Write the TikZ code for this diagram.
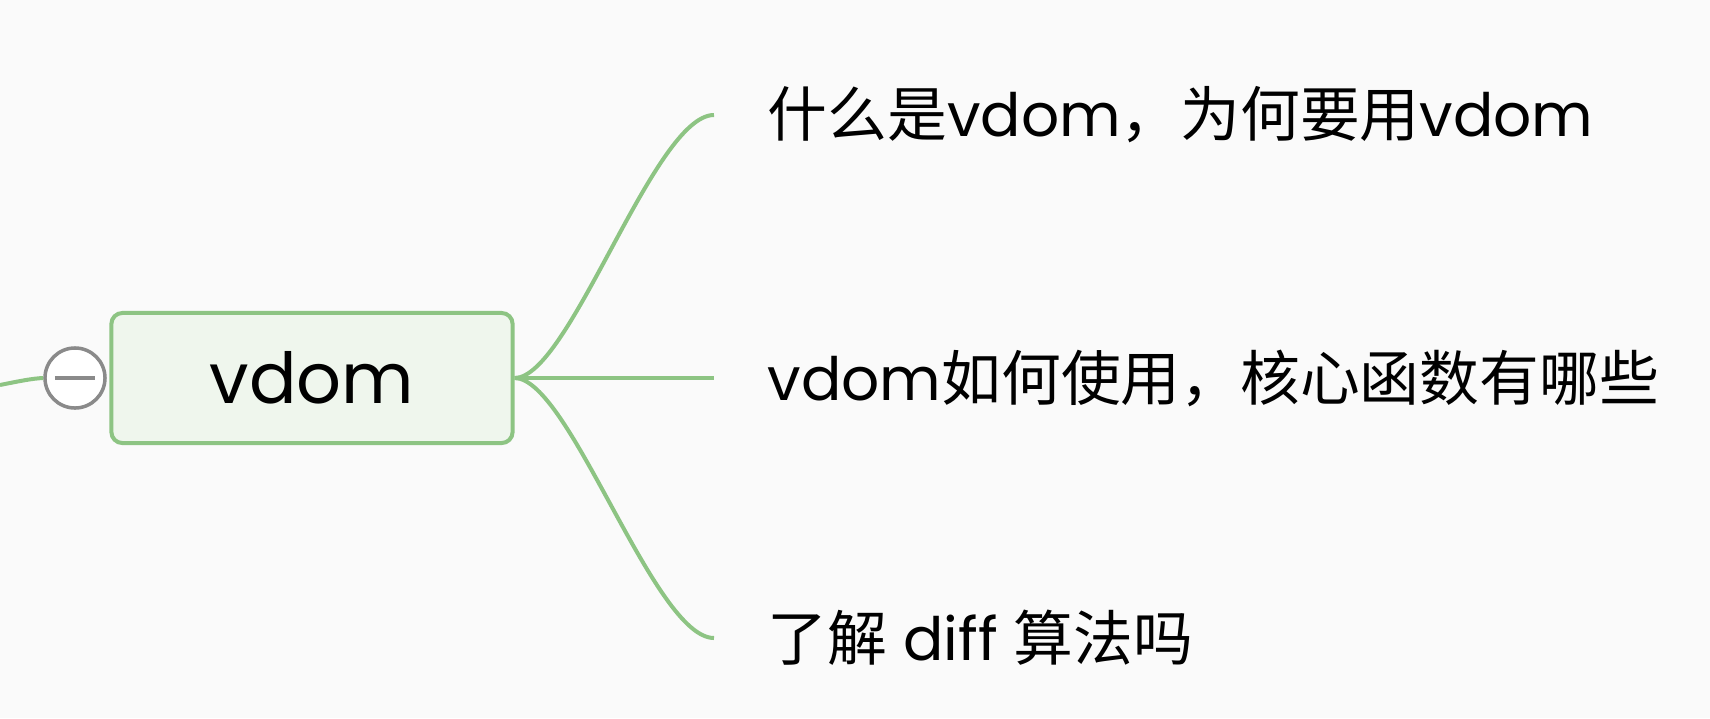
\documentclass[tikz,border=0pt]{standalone}
\usepackage{fontspec}
\setmainfont{Poppins}
\newfontfamily\cjk{Noto Sans CJK SC}
\definecolor{bg}{HTML}{FAFAFA}
\definecolor{branch}{HTML}{8DC483}
\definecolor{boxfill}{HTML}{EFF6ED}
\definecolor{toggray}{HTML}{8A8A8A}
\tikzset{
  branchline/.style={draw=branch, line width=0.04cm},
  rootbox/.style={rectangle, rounded corners=0.11cm, draw=branch, line width=0.04cm, fill=boxfill,
    minimum width=4.01cm, minimum height=1.30cm, inner sep=0pt,
    font=\fontsize{20pt}{24pt}\selectfont},
  togglebtn/.style={circle, draw=toggray, line width=0.035cm, fill=white, minimum size=0.60cm, inner sep=0pt},
  topic/.style={anchor=west, inner sep=0pt, font=\fontsize{17pt}{20pt}\selectfont, text=black}
}
\begin{document}
\begin{tikzpicture}[x={(0.01cm,0)}, y={(0,-0.01cm)}]
  \fill[bg] (0,0) rectangle (1710,718);
  \useasboundingbox (0,0) rectangle (1710,718);
  \coordinate (lft) at (0,385);
  \node[togglebtn] (tog) at (75,378) {};
  \draw[toggray, line width=0.04cm] ([xshift=-0.2cm]tog.center) -- ([xshift=0.2cm]tog.center);
  \node[rootbox] (root) at (312,378) {vdom};
  \draw[branchline] (lft) .. controls (20,381) and (32,378.5) .. (tog.west);
  \coordinate (e1) at (714,115);
  \coordinate (e2) at (714,378);
  \coordinate (e3) at (714,638);
  \draw[branchline] (root.east) .. controls +(55,0) and +(-60,0) .. (e1);
  \draw[branchline] (root.east) -- (e2);
  \draw[branchline] (root.east) .. controls +(55,0) and +(-60,0) .. (e3);
  \node[topic] (t1) at (767,115) {{\cjk 什么是}vdom{\cjk ，为何要用}vdom};
  \node[topic] (t2) at (767,378) {vdom{\cjk 如何使用，核心函数有哪些}};
  \node[topic] (t3) at (767,638) {{\cjk 了解} diff {\cjk 算法吗}};
\end{tikzpicture}
\end{document}
